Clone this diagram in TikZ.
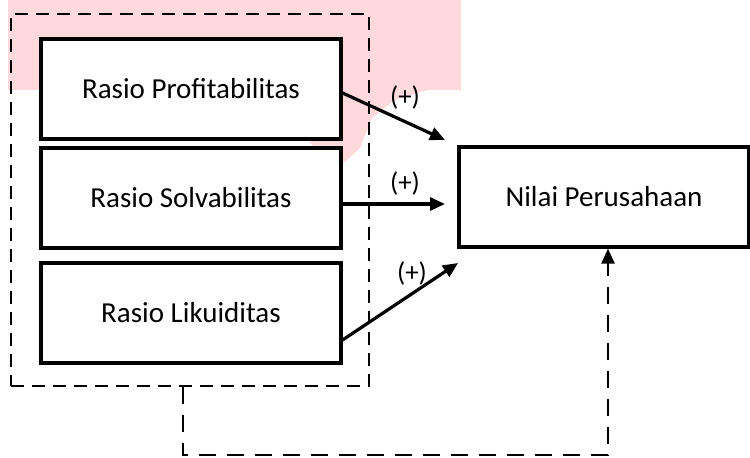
\documentclass[tikz,border=0pt]{standalone}
\usepackage{fontspec}
\setmainfont{Carlito}
\usetikzlibrary{arrows.meta}
\definecolor{wmpink}{RGB}{255,217,220}
\tikzset{
  varbox/.style={draw=black, line width=3.2pt, fill=white, minimum width=300pt, minimum height=100pt, inner sep=0pt, font=\fontsize{29}{34}\selectfont},
  groupbox/.style={draw=black, line width=2.6pt, dash pattern=on 13pt off 8pt, minimum width=358pt, minimum height=372pt, inner sep=0pt},
  effect/.style={line width=3.2pt, -{Triangle[length=15pt,width=13pt]}},
  feedback/.style={line width=2.6pt, dash pattern=on 17pt off 11pt, -{Triangle[length=15pt,width=13pt]}},
  sign/.style={font=\fontsize{27}{32}\selectfont, inner sep=0pt}
}
\begin{document}
\begin{tikzpicture}[x=1pt,y=-1pt]
\useasboundingbox (0,0) rectangle (750,458);
\fill[white] (0,0) rectangle (750,458);
% watermark tint
\fill[wmpink] (8,0) rectangle (461,90);
\fill[wmpink] (300,89) -- (430,89) -- (395,100) -- (372,118) -- (360,148) -- (345,162) -- (318,152) -- (300,130) -- cycle;
\node[groupbox] (grp) at (190,200) {};
\node[varbox] (prof) at (191,89) {Rasio Profitabilitas};
\node[varbox] (solv) at (191,198) {Rasio Solvabilitas};
\node[varbox] (liku) at (191,313) {Rasio Likuiditas};
\node[varbox, minimum width=290pt] (nilai) at (604,197) {Nilai Perusahaan};
\coordinate (t1) at (445,140);
\coordinate (t2) at (445,204);
\coordinate (t3) at (458,263);
\coordinate (fb) at (608,455);
\draw[effect] ([yshift=-4pt]prof.east) -- (t1);
\draw[effect] ([yshift=-6pt]solv.east) -- (t2);
\draw[effect] ([yshift=-27pt]liku.east) -- (t3);
\node[sign] (s1) at (405,97) {(+)};
\node[sign] (s2) at (405,183) {(+)};
\node[sign] (s3) at (412,273) {(+)};
\draw[feedback] ([xshift=-7pt]grp.south) |- (fb) -- ([xshift=4pt]nilai.south);
\end{tikzpicture}
\end{document}
